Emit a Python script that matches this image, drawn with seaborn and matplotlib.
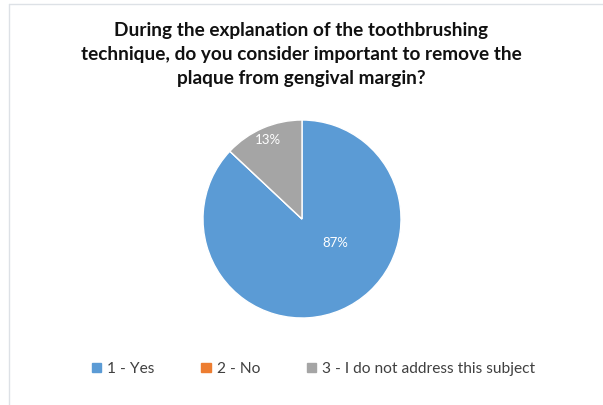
import matplotlib
matplotlib.use("Agg")
import matplotlib.pyplot as plt
from matplotlib.lines import Line2D
import seaborn as sns

categories = ['1 - Yes', '2 - No', '3 - I do not address this subject']
shares = [87, 0, 13]
colors = ['#5B9BD5', '#ED7D31', '#A5A5A5']
# label spots inside the pie (pie radius = 1), as Excel placed them
label_spots = [(0.33, -0.24), None, (-0.34, 0.79)]

sns.set_theme(style='white')
plt.rcParams['font.family'] = ['Lato', 'DejaVu Sans']

fig = plt.figure(figsize=(6.03, 4.05), dpi=100)
ax = fig.add_axes([0.0, 0.0, 1.0, 1.0])
ax.axis('off')

# pie in its own axes, centre ~ (302, 219), radius ~99 px
pie_ax = fig.add_axes([(302 - 100) / 603, 1 - (219 + 100) / 405, 200 / 603, 200 / 405])
wedges, texts, autotexts = pie_ax.pie(
    shares, colors=colors, startangle=90, counterclock=False,
    autopct=lambda p: f'{p:.0f}%' if p > 0 else '',
    radius=0.99,
    wedgeprops=dict(edgecolor='white', linewidth=1.0),
    textprops=dict(color='white', fontsize=9.5))
for t, spot in zip(autotexts, label_spots):
    if spot is not None:
        t.set_position(spot)
pie_ax.set_aspect('equal')
pie_ax.set_xlim(-1, 1)
pie_ax.set_ylim(-1, 1)

fig.suptitle('During the explanation of the toothbrushing\n'
             'technique, do you consider important to remove the\n'
             'plaque from gengival margin?',
             y=0.946, fontsize=13.7, fontweight='bold', color='#111111',
             linespacing=1.5)

handles = [plt.Rectangle((0, 0), 1, 1, color=c) for c in colors]
fig.legend(handles, categories, loc='center', bbox_to_anchor=(0.52, 1 - 369 / 405),
           ncol=3, frameon=False, fontsize=11.2, handlelength=0.6, handleheight=0.6,
           columnspacing=3.0, handletextpad=0.4, labelcolor='#404040')

# faint chart border
fig.add_artist(Line2D([9 / 603, 1], [1 - 4 / 405, 1 - 4 / 405], color='#DDE1E6', lw=1))
fig.add_artist(Line2D([9 / 603, 9 / 603], [0, 1 - 4 / 405], color='#DDE1E6', lw=1))

fig.savefig('out.png', dpi=100)
